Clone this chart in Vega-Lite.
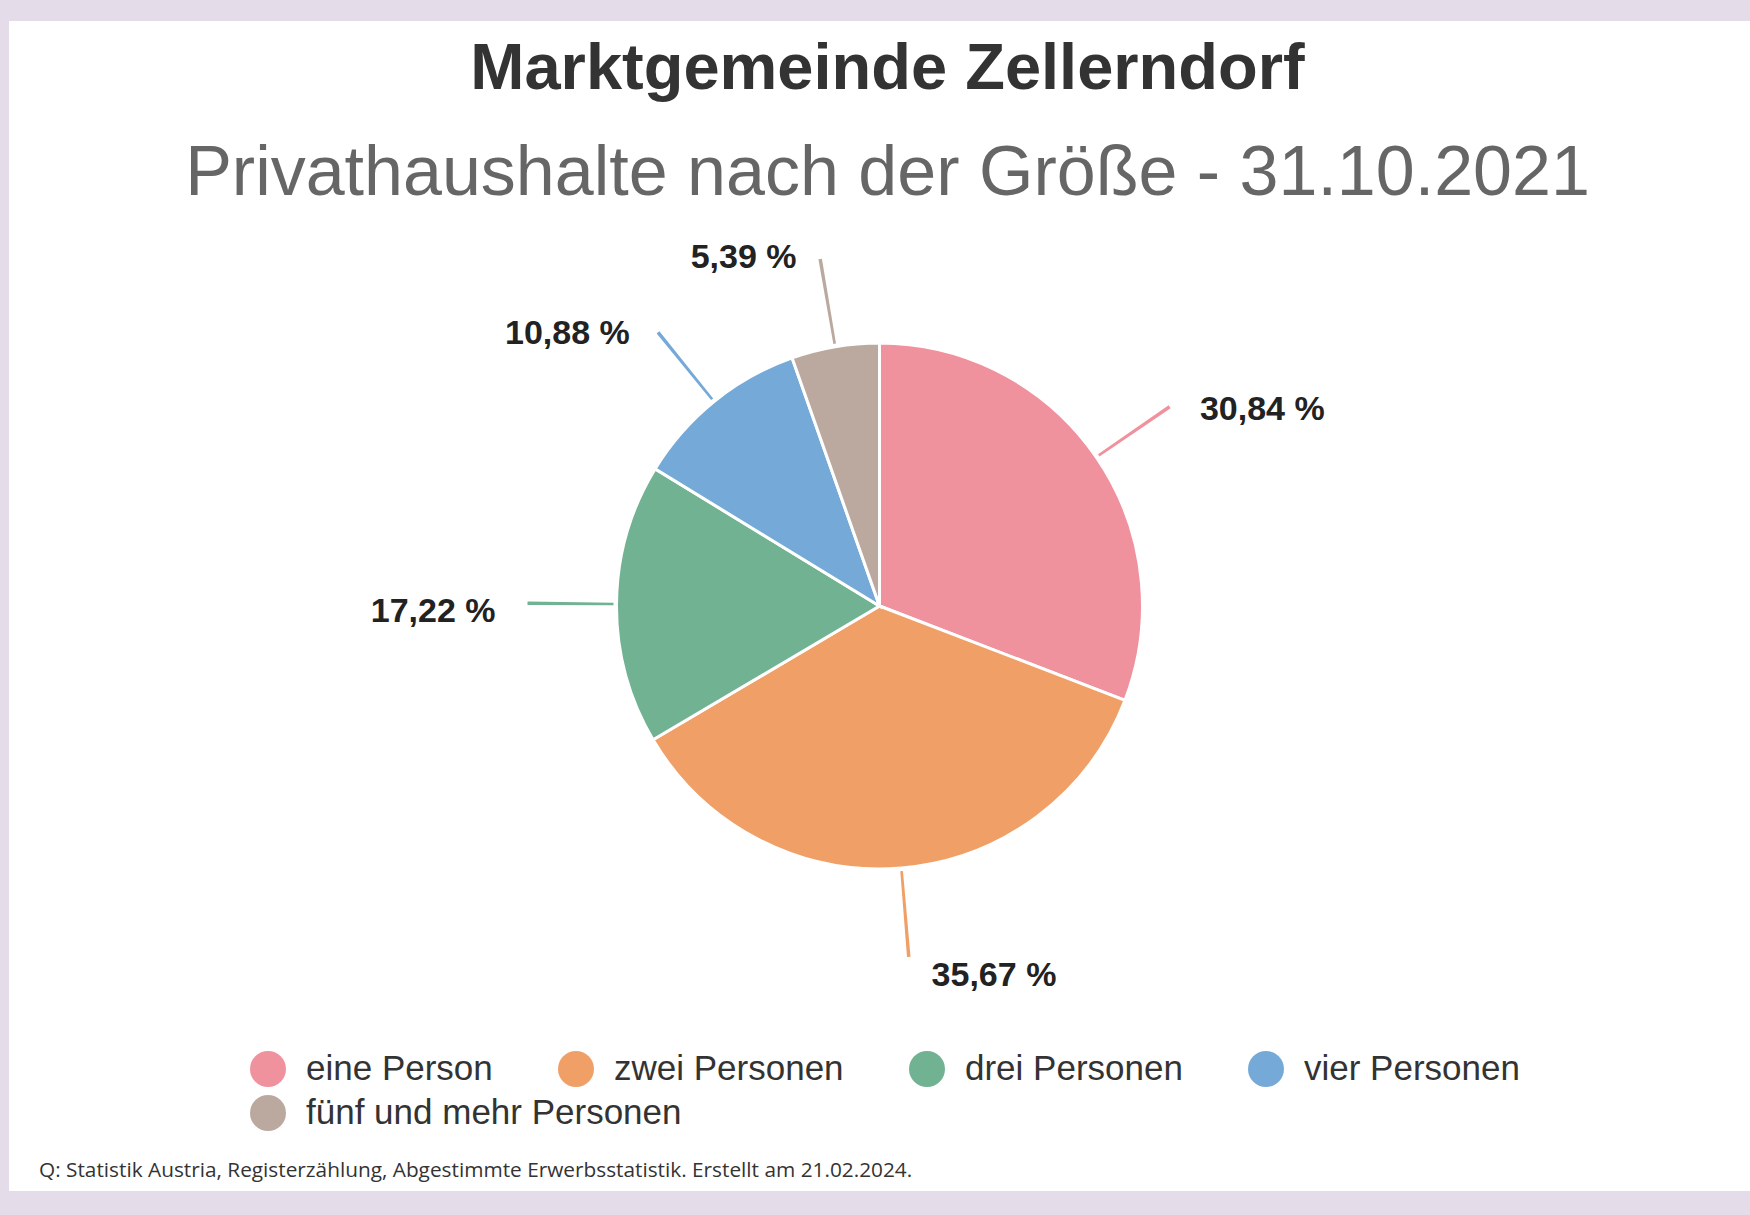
{
  "$schema": "https://vega.github.io/schema/vega-lite/v6.json",
  "background": "#e4dce8",
  "padding": {"left": 9, "top": 21, "right": 0, "bottom": 24},
  "config": {
    "legend": {
      "title": null,
      "orient": "none",
      "direction": "horizontal",
      "columnPadding": 65,
      "rowPadding": 8,
      "padding": 0,
      "symbolType": "circle",
      "symbolSize": 1296,
      "symbolStrokeWidth": 0,
      "symbolOpacity": 1,
      "labelFont": "Liberation Sans",
      "labelFontSize": 35,
      "labelColor": "#333333",
      "labelOffset": 20,
      "labelLimit": 0
    }
  },
  "title": {
    "text": "Marktgemeinde Zellerndorf",
    "subtitle": "Privathaushalte nach der Größe - 31.10.2021",
    "anchor": "middle",
    "frame": "group",
    "dx": 8,
    "offset": -189,
    "font": "Liberation Sans",
    "fontSize": 65,
    "fontWeight": "bold",
    "color": "#333333",
    "subtitleFont": "Liberation Sans",
    "subtitleFontSize": 70,
    "subtitleFontWeight": "normal",
    "subtitleColor": "#666666",
    "subtitlePadding": 37
  },
  "vconcat": [
    {
      "width": 1741,
      "height": 1170,
      "view": {"fill": "white", "stroke": null},
      "title": {
        "text": "Q: Statistik Austria, Registerzählung, Abgestimmte Erwerbsstatistik. Erstellt am 21.02.2024.",
        "orient": "bottom",
        "anchor": "start",
        "frame": "group",
        "dx": 30,
        "offset": -30,
        "font": "Open Sans",
        "fontSize": 20.8,
        "fontWeight": "normal",
        "color": "#333333"
      },
      "data": {
        "values": [
          {"Haushalt": "eine Person", "Anteil": 30.84, "nr": 1},
          {"Haushalt": "zwei Personen", "Anteil": 35.67, "nr": 2},
          {"Haushalt": "drei Personen", "Anteil": 17.22, "nr": 3},
          {"Haushalt": "vier Personen", "Anteil": 10.88, "nr": 4},
          {"Haushalt": "fünf und mehr Personen", "Anteil": 5.39, "nr": 5}
        ]
      },
      "transform": [
        {"window": [{"op": "sum", "field": "Anteil", "as": "cum"}], "sort": [{"field": "nr"}], "frame": [null, 0]},
        {"calculate": "datum.cum - datum.Anteil / 2", "as": "mid"},
        {"calculate": "datum.mid - 0.08", "as": "t1"},
        {"calculate": "datum.mid + 0.08", "as": "t2"},
        {"calculate": "replace(format(datum.Anteil, '.2f'), '.', ',') + ' %'", "as": "label"}
      ],
      "layer": [
        {
          "mark": {"type": "arc", "outerRadius": 263, "stroke": "white", "strokeWidth": 3},
          "encoding": {
            "theta": {"field": "Anteil", "type": "quantitative", "stack": true, "scale": {"domain": [0, 100]}},
            "order": {"field": "nr", "type": "quantitative"},
            "color": {
              "field": "Haushalt",
              "type": "nominal",
              "scale": {
                "domain": ["eine Person", "zwei Personen", "drei Personen", "vier Personen", "fünf und mehr Personen"],
                "range": ["#f0929d", "#f0a066", "#71b292", "#75aad8", "#bba99f"]
              },
              "legend": {
                "values": ["eine Person", "zwei Personen", "drei Personen", "vier Personen"],
                "legendX": 241,
                "legendY": 1030
              }
            }
          }
        },
        {
          "mark": {"type": "arc", "innerRadius": 266, "outerRadius": 352},
          "encoding": {
            "theta": {"field": "t1", "type": "quantitative", "stack": null},
            "theta2": {"field": "t2"},
            "fill": {
              "field": "Haushalt",
              "type": "nominal",
              "scale": {
                "domain": ["fünf und mehr Personen", "eine Person", "zwei Personen", "drei Personen", "vier Personen"],
                "range": ["#bba99f", "#f0929d", "#f0a066", "#71b292", "#75aad8"]
              },
              "legend": {
                "values": ["fünf und mehr Personen"],
                "legendX": 241,
                "legendY": 1074
              }
            }
          }
        },
        {
          "mark": {
            "type": "text",
            "radius": 362,
            "font": "Liberation Sans",
            "fontSize": 34,
            "fontWeight": "bold",
            "color": "#222222",
            "baseline": "middle",
            "align": {"expr": "datum.mid < 50 ? 'left' : 'right'"},
            "dx": {"expr": "datum.mid < 50 ? 22 : -22"},
            "dy": 9
          },
          "encoding": {
            "theta": {"field": "mid", "type": "quantitative", "stack": null},
            "text": {"field": "label"}
          }
        }
      ]
    }
  ]
}
